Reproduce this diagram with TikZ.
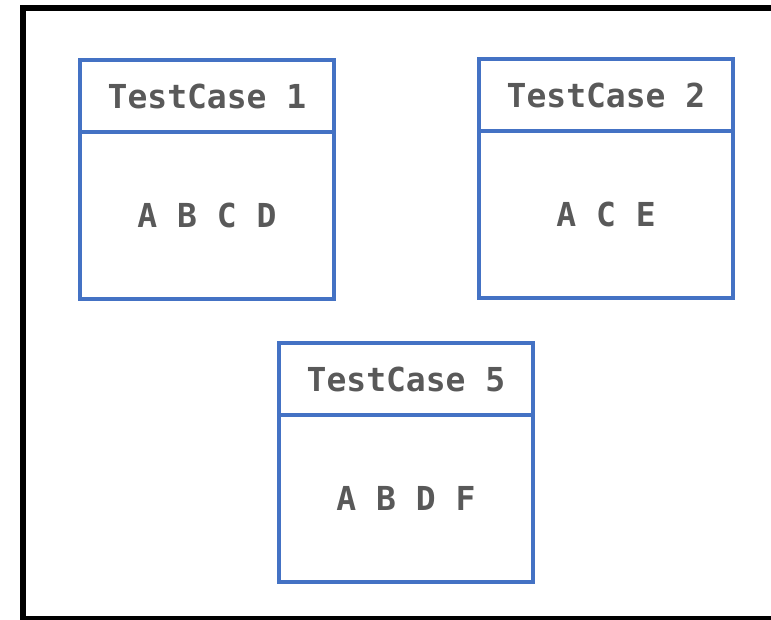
\documentclass[tikz,border=0pt]{standalone}
\usepackage{fontspec}
\newfontfamily\monobold{DejaVu Sans Mono}[BoldFont={DejaVu Sans Mono Bold}]
\definecolor{boxblue}{HTML}{4472C4}
\definecolor{txtgray}{HTML}{595959}
\tikzset{
  cell/.style={draw=boxblue, line width=3.5pt, minimum width=254pt, inner sep=0pt, outer sep=0pt, anchor=north west},
  head/.style={cell, minimum height=72pt},
  body/.style={cell, minimum height=167pt},
  lbl/.style={text=txtgray, font=\monobold\bfseries\fontsize{33}{38}\selectfont}
}
\begin{document}
\begin{tikzpicture}[x=1pt,y=-1pt]
\useasboundingbox (0,0) rectangle (771,619);
% outer frame (runs past the right and bottom edges)
\draw[line width=6pt] (23,8) rectangle (790,619);
% test case 1
\node[body] (b1) at (80,132) {};
\node[head] (h1) at (80,60) {};
\node[lbl] (t1) at (h1.center) {TestCase 1};
\node[lbl] (c1) at (b1.center) {A B C D};
% test case 2
\node[body] (b2) at (479,131) {};
\node[head] (h2) at (479,59) {};
\node[lbl] (t2) at (h2.center) {TestCase 2};
\node[lbl] (c2) at (b2.center) {A C E};
% test case 5
\node[body] (b5) at (279,415) {};
\node[head] (h5) at (279,343) {};
\node[lbl] (t5) at (h5.center) {TestCase 5};
\node[lbl] (c5) at (b5.center) {A B D F};
\end{tikzpicture}
\end{document}
